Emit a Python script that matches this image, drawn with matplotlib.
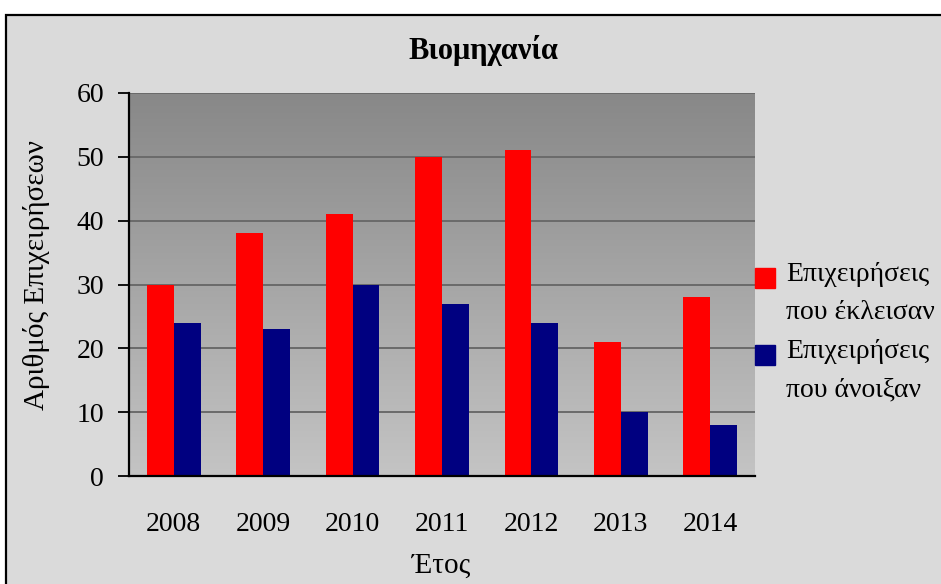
import numpy as np
import matplotlib
matplotlib.use("Agg")
import matplotlib.pyplot as plt
from matplotlib.patches import Rectangle
from matplotlib.colors import LinearSegmentedColormap
from matplotlib.legend_handler import HandlerPatch

years = ["2008", "2009", "2010", "2011", "2012", "2013", "2014"]
closed = [30, 38, 41, 50, 51, 21, 28]
opened = [24, 23, 30, 27, 24, 10, 8]
series_labels = ["Επιχειρήσεις\nπου έκλεισαν", "Επιχειρήσεις\nπου άνοιξαν"]
series_colors = ["#ff0000", "#000080"]
y_ticks = [0, 10, 20, 30, 40, 50, 60]

plt.rcParams['font.family'] = ['Liberation Serif', 'DejaVu Serif']

W, H = 941, 584
fig = plt.figure(figsize=(W / 100, H / 100), dpi=100, facecolor="white")

# grey chart area with a black frame, cut off at right and bottom
fig.patches.append(Rectangle((6 / W, -0.05), 1.0, (H - 15) / H + 0.05,
                             transform=fig.transFigure, facecolor="#dadada",
                             edgecolor="black", lw=1.6, zorder=-10))

ax = fig.add_axes([129 / W, 108 / H, 626 / W, 383 / H])
ax.patch.set_alpha(0)

grad = LinearSegmentedColormap.from_list("plot_bg", ["#888888", "#c4c4c4"])
ax.imshow(np.linspace(0, 1, 256).reshape(-1, 1), extent=(-0.5, 6.5, 0, 60),
          aspect="auto", cmap=grad, origin="upper", zorder=-1)

x = np.arange(len(years))
ax.bar(x - 0.15, closed, 0.3, color=series_colors[0], zorder=2)
ax.bar(x + 0.15, opened, 0.3, color=series_colors[1], zorder=2)

ax.set_xlim(-0.5, 6.5)
ax.set_ylim(0, 60)
ax.set_yticks(y_ticks)
ax.set_xticks(x)
ax.set_xticklabels(years)
ax.yaxis.grid(True, color="#6a6a6a", lw=1.4)
ax.set_axisbelow(True)

ax.tick_params(axis="y", length=8, width=1.3, pad=10, labelsize=20, direction="out")
ax.tick_params(axis="x", length=0, pad=26, labelsize=20)
for side in ["top", "right"]:
    ax.spines[side].set_visible(False)
for side in ["left", "bottom"]:
    ax.spines[side].set_linewidth(1.6)
    ax.spines[side].set_zorder(3)

fig.text(483 / W, 1 - 50 / H, "Βιομηχανία", ha="center", va="center",
         fontsize=22, fontweight="bold")
fig.text(441 / W, 1 - 566 / H, "Έτος", ha="center", va="center", fontsize=21)
fig.text(37 / W, 1 - 275 / H, "Αριθμός Επιχειρήσεων", ha="center", va="center",
         rotation=90, fontsize=21)


def top_square(legend, orig_handle, xdescent, ydescent, width, height, fontsize):
    sq = width
    return Rectangle((-xdescent, -ydescent + height - sq), sq, sq)


handles = [Rectangle((0, 0), 1, 1, color=c) for c in series_colors]
leg = fig.legend(handles, series_labels, loc="upper left",
                 bbox_to_anchor=(755 / W, 1 - 262 / H),
                 frameon=False, fontsize=20, handlelength=0.72, handleheight=2.6,
                 handletextpad=0.4, labelspacing=0.5, borderpad=0, borderaxespad=0,
                 handler_map={Rectangle: HandlerPatch(patch_func=top_square)})
for t in leg.get_texts():
    t.set_linespacing(1.7)

fig.savefig("out.png", dpi=100, facecolor=fig.get_facecolor())
